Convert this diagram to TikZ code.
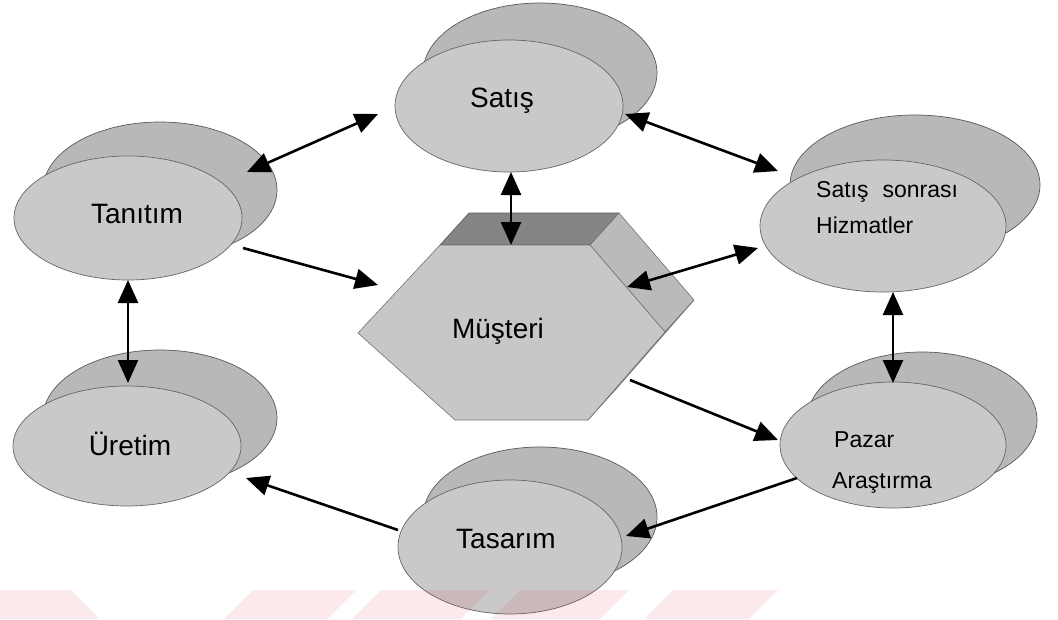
\documentclass[tikz,border=0pt]{standalone}
\usepackage{fontspec}
\setmainfont{Liberation Sans}
\usetikzlibrary{arrows.meta,shapes.geometric}
\definecolor{wm}{RGB}{230,40,70}
\begin{document}
\begin{tikzpicture}[x=1pt,y=-1pt,
  backdisk/.style={fill=black!28, draw=black!65, line width=0.7pt},
  frontdisk/.style={ellipse, fill=black!21, draw=black!60, line width=0.7pt, inner sep=0pt},
  lbl/.style={font=\fontsize{28}{28}\selectfont, inner sep=0pt, anchor=base},
  slbl/.style={font=\fontsize{23}{23}\selectfont, inner sep=0pt, anchor=base west},
  tip/.tip={Triangle[length=23pt,width=20pt]},
  link/.style={line width=2.6pt, tip-tip},
  oneway/.style={line width=2.6pt, -tip},
  stripe/.style={fill=wm, fill opacity=0.1},
  topface/.style={fill=black!48, draw=black!65, line width=0.6pt},
  sideface/.style={fill=black!27, draw=black!55, line width=0.6pt},
  frontface/.style={fill=black!22, draw=black!55, line width=0.6pt}
]
\useasboundingbox (0,0) rectangle (1058,619);
\fill[white] (0,0) rectangle (1058,619);

% back disks
\path[backdisk] (540,73) ellipse (117 and 70);
\path[backdisk] (160,190) ellipse (117 and 68);
\path[backdisk] (160,418) ellipse (117 and 68);
\path[backdisk] (540,517) ellipse (117 and 70);
\path[backdisk] (915,185) ellipse (125 and 70);
\path[backdisk] (922,420) ellipse (115 and 68);

% front disks
\node[frontdisk, minimum width=228pt, minimum height=132pt] (sat) at (509,106) {};
\node[frontdisk, minimum width=228pt, minimum height=124pt] (tan) at (128,218) {};
\node[frontdisk, minimum width=228pt, minimum height=120pt] (ure) at (127,446) {};
\node[frontdisk, minimum width=224pt, minimum height=134pt] (tas) at (510,547) {};
\node[frontdisk, minimum width=246pt, minimum height=132pt] (ss) at (883,226) {};
\node[frontdisk, minimum width=226pt, minimum height=126pt] (pz) at (893,445) {};

% hexagonal prism
\coordinate (h1) at (440,245);
\coordinate (h2) at (590,245);
\coordinate (h3) at (665,332);
\coordinate (h4) at (588,420);
\coordinate (h5) at (455,420);
\coordinate (h6) at (358,333);
\coordinate (h1b) at (469,213);
\coordinate (h2b) at (619,213);
\coordinate (h3b) at (694,300);
\coordinate (h4b) at (617,388);
\path[topface] (h1) -- (h2) -- (h2b) -- (h1b) -- cycle;
\path[sideface] (h2) -- (h3) -- (h3b) -- (h2b) -- cycle;
\path[sideface] (h3) -- (h4) -- (h4b) -- (h3b) -- cycle;
\path[frontface] (h1) -- (h2) -- (h3) -- (h4) -- (h5) -- (h6) -- cycle;

% labels
\node[lbl] (satT) at (502,107) {Satış};
\node[lbl] (tanT) at (137,223) {Tanıtım};
\node[lbl] (ureT) at (130,455) {Üretim};
\node[lbl] (tasT) at (506,548) {Tasarım};
\node[lbl] (musT) at (498,338) {Müşteri};
\node[slbl] (ssT1) at (816,197) {Satış\hspace{14pt}sonrası};
\node[slbl] (ssT2) at (816,233) {Hizmatler};
\node[slbl] (pzT1) at (834,447) {Pazar};
\node[slbl] (pzT2) at (832,488) {Araştırma};

% connector end points
\coordinate (tanA) at (247,172);
\coordinate (satA) at (378,114);
\coordinate (tanB) at (243,248);
\coordinate (musA) at (378,285);
\coordinate (satB) at (511,172);
\coordinate (musB) at (511,245);
\coordinate (satC) at (625,114);
\coordinate (ssA) at (778,171);
\coordinate (musC) at (627,287);
\coordinate (ssB) at (758,248);
\coordinate (ssC) at (893,292);
\coordinate (pzA) at (893,383);
\coordinate (musD) at (630,380);
\coordinate (pzB) at (778,440);
\coordinate (pzC) at (797,478);
\coordinate (tasA) at (626,536);
\coordinate (tasB) at (398,530);
\coordinate (ureA) at (246,478);
\coordinate (tanC) at (128,280);
\coordinate (ureB) at (128,383);

\draw[link] (tanA) -- (satA);
\draw[oneway] (tanB) -- (musA);
\draw[link] (satB) -- (musB);
\draw[link] (satC) -- (ssA);
\draw[link] (musC) -- (ssB);
\draw[link] (ssC) -- (pzA);
\draw[oneway] (musD) -- (pzB);
\draw[oneway] (pzC) -- (tasA);
\draw[oneway] (tasB) -- (ureA);
\draw[link] (tanC) -- (ureB);

% watermark stripes
\path[stripe] (-40,590) -- (71,590) -- (100,619) -- (-11,619) -- cycle;
\path[stripe] (253,590) -- (356,590) -- (327,619) -- (224,619) -- cycle;
\path[stripe] (381,590) -- (490,590) -- (461,619) -- (352,619) -- cycle;
\path[stripe] (520,590) -- (629,590) -- (600,619) -- (491,619) -- cycle;
\path[stripe] (673,590) -- (778,590) -- (749,619) -- (644,619) -- cycle;
\end{tikzpicture}
\end{document}
